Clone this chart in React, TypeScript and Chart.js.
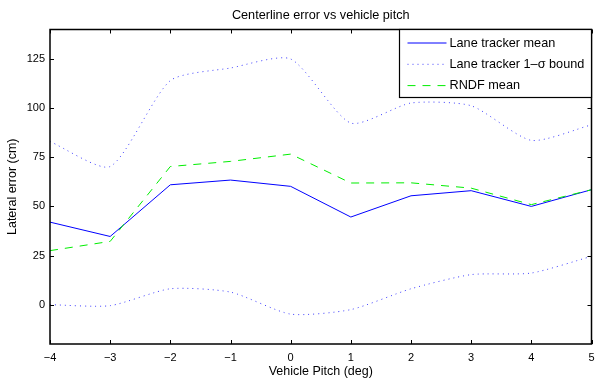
import React, { useEffect, useRef } from "react";
import { Chart, registerables } from "chart.js";

Chart.register(...registerables);

const pitch = [-4, -3, -2, -1, 0, 1, 2, 3, 4, 5];
const trackerMean = [42, 34.7, 61, 63.4, 60.2, 44.6, 55.4, 58, 50, 58.5];
const trackerUpper = [83, 70.3, 114, 120.4, 125, 92.4, 102.6, 101.2, 83.6, 91.5];
const trackerLower = [0, -0.5, 8.1, 6.4, -4.8, -2.5, 8.1, 15.3, 16.1, 24.6];
const rndfMean = [27.5, 32.2, 70.3, 72.9, 76.6, 61.9, 62, 59.3, 50.9, 58.5];
const yTicks = [0, 25, 50, 75, 100, 125];
const xTicks = [-4, -3, -2, -1, 0, 1, 2, 3, 4, 5];
const titleText = "Centerline error vs vehicle pitch";
const xLabel = "Vehicle Pitch (deg)";
const yLabel = "Lateral error (cm)";
const legendLabels = ["Lane tracker mean", "Lane tracker 1\u2013\u03c3 bound", "RNDF mean"];

const FONT = "'Liberation Sans', Arial, Helvetica, sans-serif";
const BLUE = "#0000ff";
const DOT_BLUE = "#4040ff";
const GREEN = "#00ee00";

const framePlugin = {
  id: "matlabFrame",
  afterDraw(chart: any) {
    const ctx = chart.ctx;
    const { left, right, top, bottom } = chart.chartArea;
    const xs = chart.scales.x;
    const ys = chart.scales.y;
    ctx.save();
    ctx.strokeStyle = "#000";
    ctx.lineWidth = 1;
    ctx.setLineDash([]);
    const tl = 4;
    ctx.beginPath();
    xTicks.forEach((v) => {
      const px = Math.round(xs.getPixelForValue(v)) + 0.5;
      ctx.moveTo(px, bottom);
      ctx.lineTo(px, bottom - tl);
      ctx.moveTo(px, top);
      ctx.lineTo(px, top + tl);
    });
    yTicks.forEach((v) => {
      const py = Math.round(ys.getPixelForValue(v)) + 0.5;
      ctx.moveTo(left, py);
      ctx.lineTo(left + tl, py);
      ctx.moveTo(right, py);
      ctx.lineTo(right - tl, py);
    });
    ctx.stroke();
    ctx.lineWidth = 1.5;
    ctx.strokeRect(left, top, right - left, bottom - top);

    ctx.fillStyle = "#000";
    ctx.font = `12.7px ${FONT}`;
    ctx.textAlign = "center";
    ctx.textBaseline = "middle";
    ctx.fillText(titleText, (left + right) / 2, top - 14);

    // legend
    const lw = 192;
    const lh = 68;
    const lx = right - lw;
    const ly = top;
    ctx.fillStyle = "#fff";
    ctx.fillRect(lx, ly, lw, lh);
    ctx.lineWidth = 1.2;
    ctx.strokeStyle = "#000";
    ctx.strokeRect(lx, ly, lw, lh);
    const styles = [
      { color: BLUE, dash: [] as number[] },
      { color: DOT_BLUE, dash: [1, 4] },
      { color: GREEN, dash: [8, 7] },
    ];
    legendLabels.forEach((lab, i) => {
      const cy = ly + 13.5 + i * 21.3;
      ctx.save();
      ctx.beginPath();
      ctx.lineWidth = 1;
      ctx.strokeStyle = styles[i].color;
      ctx.setLineDash(styles[i].dash);
      ctx.moveTo(lx + 8, cy);
      ctx.lineTo(lx + 47, cy);
      ctx.stroke();
      ctx.restore();
      ctx.fillStyle = "#000";
      ctx.font = `12.7px ${FONT}`;
      ctx.textAlign = "left";
      ctx.textBaseline = "middle";
      ctx.fillText(lab, lx + 50, cy);
    });
    ctx.restore();
  },
};

export default function App() {
  const ref = useRef<HTMLCanvasElement>(null);
  useEffect(() => {
    document.body.style.margin = "0";
    const canvas = ref.current!;
    const mk = (data: number[]) => pitch.map((x, i) => ({ x, y: data[i] }));
    const chart = new Chart(canvas, {
      type: "line",
      data: {
        datasets: [
          {
            data: mk(trackerUpper),
            borderColor: DOT_BLUE,
            borderWidth: 1,
            borderDash: [1, 4],
            pointRadius: 0,
            tension: 0.22,
          },
          {
            data: mk(trackerLower),
            borderColor: DOT_BLUE,
            borderWidth: 1,
            borderDash: [1, 4],
            pointRadius: 0,
            tension: 0.22,
          },
          {
            data: mk(rndfMean),
            borderColor: GREEN,
            borderWidth: 1,
            borderDash: [8, 7],
            pointRadius: 0,
            tension: 0,
          },
          {
            data: mk(trackerMean),
            borderColor: BLUE,
            borderWidth: 1,
            pointRadius: 0,
            tension: 0,
          },
        ],
      },
      options: {
        animation: false,
        responsive: false,
        devicePixelRatio: 1,
        layout: { padding: { left: 0, right: 6.5, top: 29.5, bottom: 0 } },
        plugins: { legend: { display: false }, title: { display: false }, tooltip: { enabled: false } },
        scales: {
          x: {
            type: "linear",
            min: -4,
            max: 5,
            afterBuildTicks: (s: any) => {
              s.ticks = xTicks.map((v) => ({ value: v }));
            },
            afterFit: (s: any) => {
              s.height = 37;
              s.paddingLeft = 0;
              s.paddingRight = 0;
            },
            grid: { display: false, drawTicks: false },
            border: { display: false },
            ticks: {
              padding: 7,
              color: "#000",
              font: { family: FONT, size: 11 },
              maxRotation: 0,
              autoSkip: false,
              callback: (v: any) => (Number(v) < 0 ? "\u2212" + Math.abs(Number(v)) : String(v)),
            },
            title: {
              display: true,
              text: xLabel,
              color: "#000",
              font: { family: FONT, size: 12.5 },
              padding: { top: 0, bottom: 2 },
            },
          },
          y: {
            type: "linear",
            min: -20,
            max: 140,
            afterBuildTicks: (s: any) => {
              s.ticks = yTicks.map((v) => ({ value: v }));
            },
            afterFit: (s: any) => {
              s.width = 50;
              s.paddingTop = 0;
              s.paddingBottom = 0;
            },
            grid: { display: false, drawTicks: false },
            border: { display: false },
            ticks: {
              padding: 5,
              color: "#000",
              font: { family: FONT, size: 11 },
              autoSkip: false,
            },
            title: {
              display: true,
              text: yLabel,
              color: "#000",
              font: { family: FONT, size: 12.5 },
              padding: { top: 5, bottom: 0 },
            },
          },
        },
      },
      plugins: [framePlugin],
    } as any);
    return () => chart.destroy();
  }, []);
  return (
    <div style={{ width: 598, height: 381, background: "#fff" }}>
      <canvas ref={ref} width={598} height={381} style={{ display: "block" }} />
    </div>
  );
}
